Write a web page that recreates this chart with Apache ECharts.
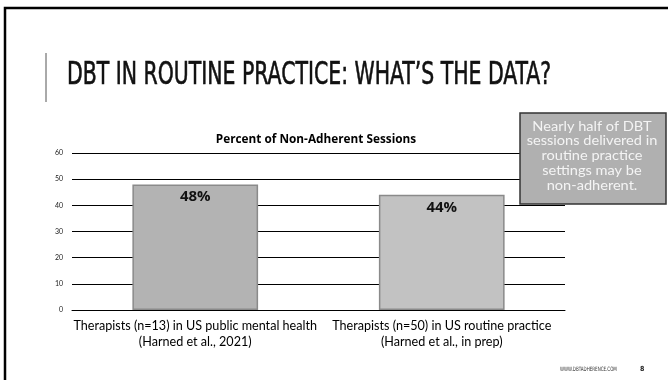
<!DOCTYPE html>
<html>
<head>
<meta charset="utf-8">
<script src="https://cdn.jsdelivr.net/npm/echarts@6/dist/echarts.min.js"></script>
<style>
  html, body { margin: 0; padding: 0; background: #fff; }
  #chart { width: 668px; height: 380px; }
</style>
</head>
<body>
<div id="chart"></div>
<script>
// percent of non-adherent sessions
const categories = [
  'Therapists (n=13) in US public mental health\n(Harned et al., 2021)',
  'Therapists (n=50) in US routine practice\n(Harned et al., in prep)'
]
const values = [48, 44]
const barColors = ['#b3b3b3', '#c2c2c2']
const yMin = 0
const yMax = 60
const yStep = 10

const gothic = 'Lato, "Noto Sans", sans-serif'
const gothicBold = '"Open Sans", "Noto Sans", sans-serif'
const narrow = '"Liberation Sans Narrow", "DejaVu Sans Condensed", sans-serif'

let chart = echarts.init(document.getElementById('chart'))
chart.setOption({
  animation: false,
  title: {
    text: 'Percent of Non-Adherent Sessions',
    left: 311,
    top: 129,
    textAlign: 'center',
    textStyle: { fontFamily: gothicBold, fontSize: 11.8, fontWeight: 'bold', color: '#000' }
  },
  grid: { left: 72, right: 103, top: 153, bottom: 70, containLabel: false },
  xAxis: {
    type: 'category',
    data: categories,
    axisLine: { lineStyle: { color: '#000', width: 1 } },
    axisTick: { show: false },
    axisLabel: {
      fontFamily: gothic,
      fontSize: 12.6,
      lineHeight: 16,
      color: '#000',
      margin: 8,
      interval: 0
    }
  },
  yAxis: {
    type: 'value',
    min: yMin,
    max: yMax,
    interval: yStep,
    axisLine: { show: false },
    axisTick: { show: false },
    axisLabel: { fontFamily: gothic, fontSize: 7, color: '#222', margin: 9 },
    splitLine: { lineStyle: { color: '#000', width: 1 } }
  },
  series: [{
    type: 'bar',
    barWidth: '51%',
    data: values.map((v, i) => ({
      value: v,
      itemStyle: { color: barColors[i], borderColor: '#8a8a8a', borderWidth: 1.5 }
    })),
    label: {
      show: true,
      position: 'insideTop',
      distance: 5,
      formatter: '{c}%',
      fontFamily: gothicBold,
      fontSize: 15,
      fontWeight: 'bold',
      color: '#111'
    }
  }],
  graphic: [
    {
      type: 'rect',
      shape: { x: 5, y: 8, width: 700, height: 400 },
      style: { fill: 'none', stroke: '#000', lineWidth: 2.5 },
      silent: true
    },
    {
      type: 'line',
      shape: { x1: 46, y1: 53, x2: 46, y2: 102 },
      style: { stroke: '#555', lineWidth: 1 }
    },
    {
      type: 'text',
      x: 67,
      y: 92,
      scaleX: 0.71,
      style: {
        text: 'DBT IN ROUTINE PRACTICE: WHAT\u2019S THE DATA?',
        fontFamily: narrow,
        fontSize: 32,
        fill: '#111',
        stroke: '#111',
        lineWidth: 0.6,
        textVerticalAlign: 'bottom'
      }
    },
    {
      type: 'rect',
      z: 100,
      shape: { x: 520, y: 113, width: 146, height: 91 },
      style: { fill: '#b0b0b0', stroke: '#333', lineWidth: 1.5 }
    },
    {
      type: 'text',
      z: 101,
      x: 592,
      y: 119,
      scaleX: 1.08,
      style: {
        text: 'Nearly half of DBT\nsessions delivered in\nroutine practice\nsettings may be\nnon-adherent.',
        fontFamily: gothic,
        fontSize: 13.5,
        lineHeight: 14.7,
        fill: '#f4f4f4',
        textAlign: 'center'
      }
    },
    {
      type: 'text',
      x: 560,
      y: 369,
      scaleX: 0.75,
      style: {
        text: 'WWW.DBTADHERENCE.COM',
        fontFamily: narrow,
        fontSize: 6,
        fill: '#333',
        textVerticalAlign: 'middle'
      }
    },
    {
      type: 'text',
      x: 640,
      y: 369,
      style: {
        text: '8',
        fontFamily: narrow,
        fontSize: 7,
        fontWeight: 'bold',
        fill: '#222',
        textVerticalAlign: 'middle'
      }
    }
  ]
})
</script>
</body>
</html>
